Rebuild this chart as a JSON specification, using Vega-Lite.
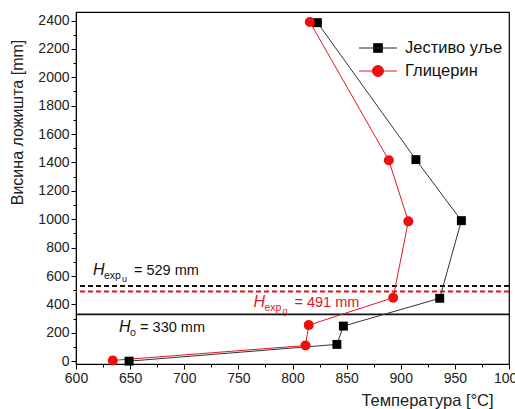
{
 "$schema": "https://vega.github.io/schema/vega-lite/v6.json",
 "width": 433,
 "height": 352,
 "autosize": "none",
 "padding": {"left": 76, "top": 12, "right": 6, "bottom": 45},
 "background": "white",
 "config": {"font": "Liberation Sans", "view": {"stroke": "black", "strokeWidth": 1.2}, "axis": {"labelOverlap": false, "labelFlush": false}},
 "datasets": {
  "profile": [
   {"series": "Јестиво уље", "temp": 649, "height": 0},
   {"series": "Јестиво уље", "temp": 841, "height": 118},
   {"series": "Јестиво уље", "temp": 847, "height": 247},
   {"series": "Јестиво уље", "temp": 936, "height": 443},
   {"series": "Јестиво уље", "temp": 956, "height": 990},
   {"series": "Јестиво уље", "temp": 914, "height": 1420},
   {"series": "Јестиво уље", "temp": 823, "height": 2385},
   {"series": "Глицерин", "temp": 634, "height": 5},
   {"series": "Глицерин", "temp": 812, "height": 110},
   {"series": "Глицерин", "temp": 815, "height": 254},
   {"series": "Глицерин", "temp": 893, "height": 447},
   {"series": "Глицерин", "temp": 907, "height": 985},
   {"series": "Глицерин", "temp": 889, "height": 1415},
   {"series": "Глицерин", "temp": 816, "height": 2390}
  ],
  "levels": [
   {"kind": "u", "height": 529},
   {"kind": "g", "height": 491},
   {"kind": "o", "height": 330}
  ],
  "notes": [
   {"grp": "u", "temp": 615.7, "height": 607, "main": "H", "sub": "exp", "subsub": "u", "rest": "= 529 mm"},
   {"grp": "g", "temp": 763.9, "height": 382, "main": "H", "sub": "exp", "subsub": "g", "rest": "= 491 mm"},
   {"grp": "o", "temp": 639.8, "height": 206, "main": "H", "sub": "o", "subsub": "", "rest": "= 330 mm"}
  ]
 },
 "layer": [
  {
   "data": {"name": "levels"},
   "transform": [{"filter": "datum.kind === 'u'"}],
   "mark": {"type": "rule", "color": "#111111", "strokeWidth": 2, "strokeDash": [5, 3]},
   "encoding": {"y": {"field": "height", "type": "quantitative", "scale": {"domain": [-20, 2460], "nice": false, "zero": false},
     "axis": {"title": "Висина ложишта [mm]", "format": "d", "grid": false, "tickCount": 60,
      "values": [0, 100, 200, 300, 400, 500, 600, 700, 800, 900, 1000, 1100, 1200, 1300, 1400, 1500, 1600, 1700, 1800, 1900, 2000, 2100, 2200, 2300, 2400],
      "labelExpr": "datum.value % 200 === 0 ? datum.label : ''",
      "tickSize": {"condition": {"test": "datum.value % 200 === 0", "value": 5}, "value": 3},
      "domainColor": "black", "tickColor": "black", "labelColor": "#222222", "labelFontSize": 14, "labelPadding": 2,
      "titleFontSize": 16, "titleFontWeight": "normal", "titleColor": "#222222",
      "titleX": -51, "titleY": 110, "titleAlign": "center", "labelFlush": false, "labelOverlap": false}}}
  },
  {
   "data": {"name": "levels"},
   "transform": [{"filter": "datum.kind === 'g'"}],
   "mark": {"type": "rule", "color": "#e3161c", "strokeWidth": 2, "strokeDash": [5, 3]},
   "encoding": {"y": {"field": "height", "type": "quantitative"}}
  },
  {
   "data": {"name": "levels"},
   "transform": [{"filter": "datum.kind === 'o'"}],
   "mark": {"type": "rule", "color": "#111111", "strokeWidth": 1.8},
   "encoding": {"y": {"field": "height", "type": "quantitative"}}
  },
  {
   "data": {"name": "profile"},
   "transform": [{"filter": "datum.series === 'Јестиво уље'"}],
   "mark": {"type": "line", "color": "#333333", "strokeWidth": 1},
   "encoding": {
    "x": {"field": "temp", "type": "quantitative", "scale": {"domain": [600, 1000], "nice": false, "zero": false},
     "axis": {"title": "Температура [°C]", "format": "d", "grid": false, "tickCount": 60,
      "values": [600, 625, 650, 675, 700, 725, 750, 775, 800, 825, 850, 875, 900, 925, 950, 975, 1000],
      "labelExpr": "datum.value % 50 === 0 ? datum.label : ''",
      "tickSize": {"condition": {"test": "datum.value % 50 === 0", "value": 5}, "value": 3},
      "domainColor": "black", "tickColor": "black", "labelColor": "#222222", "labelFontSize": 14, "labelPadding": 2,
      "titleFontSize": 16.5, "titleFontWeight": "normal", "titleColor": "#222222",
      "titleX": 351, "titleY": 28, "titleAlign": "center", "titleBaseline": "top", "labelFlush": false, "labelOverlap": false}},
    "y": {"field": "height", "type": "quantitative"},
    "order": {"field": "height", "type": "quantitative"}
   }
  },
  {
   "data": {"name": "profile"},
   "transform": [{"filter": "datum.series === 'Глицерин'"}],
   "mark": {"type": "line", "color": "#e3161c", "strokeWidth": 1},
   "encoding": {
    "x": {"field": "temp", "type": "quantitative"},
    "y": {"field": "height", "type": "quantitative"},
    "order": {"field": "height", "type": "quantitative"}
   }
  },
  {
   "data": {"name": "profile"},
   "transform": [{"filter": "datum.series === 'Јестиво уље'"}],
   "mark": {"type": "point", "shape": "square", "filled": true, "color": "black", "size": 80, "opacity": 1},
   "encoding": {
    "x": {"field": "temp", "type": "quantitative"},
    "y": {"field": "height", "type": "quantitative"}
   }
  },
  {
   "data": {"name": "profile"},
   "transform": [{"filter": "datum.series === 'Глицерин'"}],
   "mark": {"type": "point", "shape": "circle", "filled": true, "color": "#f20d0d", "size": 100, "opacity": 1},
   "encoding": {
    "x": {"field": "temp", "type": "quantitative"},
    "y": {"field": "height", "type": "quantitative"}
   }
  },
  {
   "data": {"name": "notes"},
   "mark": {"type": "text", "align": "left", "baseline": "alphabetic", "fontSize": 16, "fontStyle": "italic"},
   "encoding": {
    "x": {"field": "temp", "type": "quantitative"},
    "y": {"field": "height", "type": "quantitative"},
    "text": {"field": "main"},
    "color": {"field": "grp", "type": "nominal", "scale": {"domain": ["u", "g", "o"], "range": ["#111111", "#e3161c", "#111111"]}, "legend": null}
   }
  },
  {
   "data": {"name": "notes"},
   "mark": {"type": "text", "align": "left", "baseline": "alphabetic", "fontSize": 10.5, "dx": 11, "dy": 4},
   "encoding": {
    "x": {"field": "temp", "type": "quantitative"},
    "y": {"field": "height", "type": "quantitative"},
    "text": {"field": "sub"},
    "color": {"field": "grp", "type": "nominal", "legend": null}
   }
  },
  {
   "data": {"name": "notes"},
   "mark": {"type": "text", "align": "left", "baseline": "alphabetic", "fontSize": 9, "dx": 29, "dy": 7},
   "encoding": {
    "x": {"field": "temp", "type": "quantitative"},
    "y": {"field": "height", "type": "quantitative"},
    "text": {"field": "subsub"},
    "color": {"field": "grp", "type": "nominal", "legend": null}
   }
  },
  {
   "data": {"name": "notes"},
   "transform": [{"filter": "datum.grp !== 'o'"}],
   "mark": {"type": "text", "align": "left", "baseline": "alphabetic", "fontSize": 14.5, "dx": 41},
   "encoding": {
    "x": {"field": "temp", "type": "quantitative"},
    "y": {"field": "height", "type": "quantitative"},
    "text": {"field": "rest"},
    "color": {"field": "grp", "type": "nominal", "legend": null}
   }
  },
  {
   "data": {"name": "notes"},
   "transform": [{"filter": "datum.grp === 'o'"}],
   "mark": {"type": "text", "align": "left", "baseline": "alphabetic", "fontSize": 14.5, "dx": 21},
   "encoding": {
    "x": {"field": "temp", "type": "quantitative"},
    "y": {"field": "height", "type": "quantitative"},
    "text": {"field": "rest"},
    "color": {"field": "grp", "type": "nominal", "legend": null}
   }
  },
  {
   "data": {"name": "profile"},
   "mark": {"type": "point", "opacity": 0, "filled": true},
   "encoding": {
    "x": {"field": "temp", "type": "quantitative"},
    "y": {"field": "height", "type": "quantitative"},
    "shape": {"field": "series", "type": "nominal",
     "scale": {"domain": ["Јестиво уље", "Глицерин"], "range": ["M-2,0H2M-0.47,-0.47H0.47V0.47H-0.47Z", "M-2,0H2M-0.58,0A0.58,0.58,0,1,0,0.58,0A0.58,0.58,0,1,0,-0.58,0Z"]},
     "legend": {"orient": "none", "legendX": 292, "legendY": 26, "title": null, "symbolSize": 361, "symbolStrokeWidth": 1, "symbolOpacity": 1,
      "labelFontSize": 16.5, "labelColor": "#111111", "labelOffset": 17, "padding": 0, "rowPadding": 4, "labelFont": "Liberation Sans"}},
    "fill": {"field": "series", "type": "nominal", "scale": {"domain": ["Јестиво уље", "Глицерин"], "range": ["#000000", "#f20d0d"]}},
    "stroke": {"field": "series", "type": "nominal", "scale": {"domain": ["Јестиво уље", "Глицерин"], "range": ["#222222", "#e3161c"]}}
   }
  }
 ]
}
